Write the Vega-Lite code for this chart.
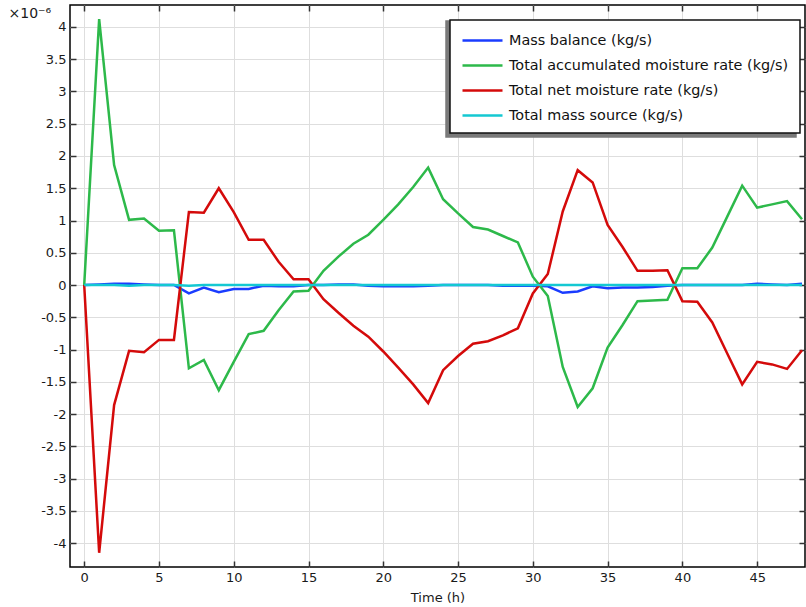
{
  "$schema": "https://vega.github.io/schema/vega-lite/v6.json",
  "autosize": {"type": "none"},
  "padding": {"left": 70, "top": 5, "right": 1, "bottom": 40},
  "width": 735,
  "height": 562,
  "config": {
    "font": "DejaVu Sans",
    "view": {"stroke": "#000000", "strokeWidth": 1.5},
    "axis": {
      "labelFont": "DejaVu Sans",
      "labelFontSize": 13,
      "labelColor": "#1a1a1a",
      "titleFont": "DejaVu Sans",
      "titleFontSize": 13,
      "titleFontWeight": "normal",
      "titleColor": "#1a1a1a",
      "gridColor": "#dedede",
      "gridWidth": 1,
      "domain": false,
      "tickColor": "#333333",
      "tickWidth": 1.5,
      "tickSize": -6
    },
    "legend": {
      "orient": "none",
      "labelFont": "DejaVu Sans",
      "labelFontSize": 14.4,
      "labelLimit": 400,
      "symbolSize": 256,
      "rowPadding": 9,
      "strokeWidth": 1.5
    }
  },
  "data": {
    "values": [
      {"t": 0, "Mass balance (kg/s)": 0, "Total accumulated moisture rate (kg/s)": 0, "Total net moisture rate (kg/s)": 0, "Total mass source (kg/s)": 0},
      {"t": 1, "Mass balance (kg/s)": 0.01, "Total accumulated moisture rate (kg/s)": 4.12, "Total net moisture rate (kg/s)": -4.15, "Total mass source (kg/s)": 0},
      {"t": 2, "Mass balance (kg/s)": 0.02, "Total accumulated moisture rate (kg/s)": 1.86, "Total net moisture rate (kg/s)": -1.86, "Total mass source (kg/s)": 0},
      {"t": 3, "Mass balance (kg/s)": 0.02, "Total accumulated moisture rate (kg/s)": 1.01, "Total net moisture rate (kg/s)": -1.02, "Total mass source (kg/s)": -0.01},
      {"t": 4, "Mass balance (kg/s)": 0.01, "Total accumulated moisture rate (kg/s)": 1.03, "Total net moisture rate (kg/s)": -1.04, "Total mass source (kg/s)": 0},
      {"t": 5, "Mass balance (kg/s)": 0, "Total accumulated moisture rate (kg/s)": 0.84, "Total net moisture rate (kg/s)": -0.85, "Total mass source (kg/s)": 0},
      {"t": 6, "Mass balance (kg/s)": 0, "Total accumulated moisture rate (kg/s)": 0.85, "Total net moisture rate (kg/s)": -0.85, "Total mass source (kg/s)": 0},
      {"t": 7, "Mass balance (kg/s)": -0.13, "Total accumulated moisture rate (kg/s)": -1.29, "Total net moisture rate (kg/s)": 1.13, "Total mass source (kg/s)": -0.01},
      {"t": 8, "Mass balance (kg/s)": -0.04, "Total accumulated moisture rate (kg/s)": -1.16, "Total net moisture rate (kg/s)": 1.12, "Total mass source (kg/s)": 0},
      {"t": 9, "Mass balance (kg/s)": -0.11, "Total accumulated moisture rate (kg/s)": -1.63, "Total net moisture rate (kg/s)": 1.5, "Total mass source (kg/s)": 0},
      {"t": 10, "Mass balance (kg/s)": -0.06, "Total accumulated moisture rate (kg/s)": -1.19, "Total net moisture rate (kg/s)": 1.13, "Total mass source (kg/s)": 0},
      {"t": 11, "Mass balance (kg/s)": -0.06, "Total accumulated moisture rate (kg/s)": -0.76, "Total net moisture rate (kg/s)": 0.7, "Total mass source (kg/s)": 0},
      {"t": 12, "Mass balance (kg/s)": -0.01, "Total accumulated moisture rate (kg/s)": -0.71, "Total net moisture rate (kg/s)": 0.7, "Total mass source (kg/s)": 0},
      {"t": 13, "Mass balance (kg/s)": -0.02, "Total accumulated moisture rate (kg/s)": -0.39, "Total net moisture rate (kg/s)": 0.36, "Total mass source (kg/s)": 0},
      {"t": 14, "Mass balance (kg/s)": -0.02, "Total accumulated moisture rate (kg/s)": -0.1, "Total net moisture rate (kg/s)": 0.09, "Total mass source (kg/s)": 0},
      {"t": 15, "Mass balance (kg/s)": 0, "Total accumulated moisture rate (kg/s)": -0.09, "Total net moisture rate (kg/s)": 0.09, "Total mass source (kg/s)": 0},
      {"t": 16, "Mass balance (kg/s)": 0, "Total accumulated moisture rate (kg/s)": 0.22, "Total net moisture rate (kg/s)": -0.22, "Total mass source (kg/s)": 0},
      {"t": 17, "Mass balance (kg/s)": 0.01, "Total accumulated moisture rate (kg/s)": 0.44, "Total net moisture rate (kg/s)": -0.43, "Total mass source (kg/s)": 0},
      {"t": 18, "Mass balance (kg/s)": 0.01, "Total accumulated moisture rate (kg/s)": 0.64, "Total net moisture rate (kg/s)": -0.63, "Total mass source (kg/s)": 0},
      {"t": 19, "Mass balance (kg/s)": -0.01, "Total accumulated moisture rate (kg/s)": 0.78, "Total net moisture rate (kg/s)": -0.8, "Total mass source (kg/s)": 0},
      {"t": 20, "Mass balance (kg/s)": -0.02, "Total accumulated moisture rate (kg/s)": 1.01, "Total net moisture rate (kg/s)": -1.03, "Total mass source (kg/s)": 0},
      {"t": 21, "Mass balance (kg/s)": -0.02, "Total accumulated moisture rate (kg/s)": 1.25, "Total net moisture rate (kg/s)": -1.28, "Total mass source (kg/s)": 0},
      {"t": 22, "Mass balance (kg/s)": -0.02, "Total accumulated moisture rate (kg/s)": 1.52, "Total net moisture rate (kg/s)": -1.54, "Total mass source (kg/s)": 0},
      {"t": 23, "Mass balance (kg/s)": -0.01, "Total accumulated moisture rate (kg/s)": 1.82, "Total net moisture rate (kg/s)": -1.83, "Total mass source (kg/s)": 0},
      {"t": 24, "Mass balance (kg/s)": 0, "Total accumulated moisture rate (kg/s)": 1.33, "Total net moisture rate (kg/s)": -1.32, "Total mass source (kg/s)": 0},
      {"t": 25, "Mass balance (kg/s)": 0, "Total accumulated moisture rate (kg/s)": 1.11, "Total net moisture rate (kg/s)": -1.1, "Total mass source (kg/s)": 0},
      {"t": 26, "Mass balance (kg/s)": 0, "Total accumulated moisture rate (kg/s)": 0.9, "Total net moisture rate (kg/s)": -0.91, "Total mass source (kg/s)": 0},
      {"t": 27, "Mass balance (kg/s)": 0, "Total accumulated moisture rate (kg/s)": 0.86, "Total net moisture rate (kg/s)": -0.87, "Total mass source (kg/s)": 0},
      {"t": 28, "Mass balance (kg/s)": -0.01, "Total accumulated moisture rate (kg/s)": 0.76, "Total net moisture rate (kg/s)": -0.78, "Total mass source (kg/s)": 0},
      {"t": 29, "Mass balance (kg/s)": -0.01, "Total accumulated moisture rate (kg/s)": 0.66, "Total net moisture rate (kg/s)": -0.67, "Total mass source (kg/s)": 0},
      {"t": 30, "Mass balance (kg/s)": -0.01, "Total accumulated moisture rate (kg/s)": 0.13, "Total net moisture rate (kg/s)": -0.13, "Total mass source (kg/s)": 0},
      {"t": 31, "Mass balance (kg/s)": -0.02, "Total accumulated moisture rate (kg/s)": -0.17, "Total net moisture rate (kg/s)": 0.17, "Total mass source (kg/s)": 0},
      {"t": 32, "Mass balance (kg/s)": -0.12, "Total accumulated moisture rate (kg/s)": -1.27, "Total net moisture rate (kg/s)": 1.14, "Total mass source (kg/s)": 0},
      {"t": 33, "Mass balance (kg/s)": -0.1, "Total accumulated moisture rate (kg/s)": -1.89, "Total net moisture rate (kg/s)": 1.78, "Total mass source (kg/s)": 0},
      {"t": 34, "Mass balance (kg/s)": -0.02, "Total accumulated moisture rate (kg/s)": -1.6, "Total net moisture rate (kg/s)": 1.59, "Total mass source (kg/s)": 0},
      {"t": 35, "Mass balance (kg/s)": -0.05, "Total accumulated moisture rate (kg/s)": -0.97, "Total net moisture rate (kg/s)": 0.93, "Total mass source (kg/s)": 0},
      {"t": 36, "Mass balance (kg/s)": -0.04, "Total accumulated moisture rate (kg/s)": -0.62, "Total net moisture rate (kg/s)": 0.59, "Total mass source (kg/s)": 0},
      {"t": 37, "Mass balance (kg/s)": -0.04, "Total accumulated moisture rate (kg/s)": -0.25, "Total net moisture rate (kg/s)": 0.22, "Total mass source (kg/s)": 0},
      {"t": 38, "Mass balance (kg/s)": -0.03, "Total accumulated moisture rate (kg/s)": -0.24, "Total net moisture rate (kg/s)": 0.22, "Total mass source (kg/s)": 0},
      {"t": 39, "Mass balance (kg/s)": -0.01, "Total accumulated moisture rate (kg/s)": -0.23, "Total net moisture rate (kg/s)": 0.23, "Total mass source (kg/s)": 0},
      {"t": 40, "Mass balance (kg/s)": 0, "Total accumulated moisture rate (kg/s)": 0.26, "Total net moisture rate (kg/s)": -0.25, "Total mass source (kg/s)": 0},
      {"t": 41, "Mass balance (kg/s)": 0, "Total accumulated moisture rate (kg/s)": 0.26, "Total net moisture rate (kg/s)": -0.26, "Total mass source (kg/s)": 0},
      {"t": 42, "Mass balance (kg/s)": 0, "Total accumulated moisture rate (kg/s)": 0.58, "Total net moisture rate (kg/s)": -0.58, "Total mass source (kg/s)": 0},
      {"t": 43, "Mass balance (kg/s)": 0, "Total accumulated moisture rate (kg/s)": 1.06, "Total net moisture rate (kg/s)": -1.06, "Total mass source (kg/s)": 0},
      {"t": 44, "Mass balance (kg/s)": 0, "Total accumulated moisture rate (kg/s)": 1.54, "Total net moisture rate (kg/s)": -1.54, "Total mass source (kg/s)": 0},
      {"t": 45, "Mass balance (kg/s)": 0.02, "Total accumulated moisture rate (kg/s)": 1.2, "Total net moisture rate (kg/s)": -1.19, "Total mass source (kg/s)": 0},
      {"t": 46, "Mass balance (kg/s)": 0.01, "Total accumulated moisture rate (kg/s)": 1.25, "Total net moisture rate (kg/s)": -1.23, "Total mass source (kg/s)": 0},
      {"t": 47, "Mass balance (kg/s)": 0, "Total accumulated moisture rate (kg/s)": 1.3, "Total net moisture rate (kg/s)": -1.3, "Total mass source (kg/s)": 0},
      {"t": 48, "Mass balance (kg/s)": 0.02, "Total accumulated moisture rate (kg/s)": 1.02, "Total net moisture rate (kg/s)": -1.01, "Total mass source (kg/s)": 0}
    ]
  },
  "transform": [
    {"fold": ["Mass balance (kg/s)", "Total accumulated moisture rate (kg/s)", "Total net moisture rate (kg/s)", "Total mass source (kg/s)"], "as": ["series", "value"]}
  ],
  "layer": [
    {
      "mark": {"type": "line", "strokeWidth": 2.5, "clip": true},
      "encoding": {
        "x": {
          "field": "t", "type": "quantitative",
          "scale": {"domain": [-0.95, 48.2], "nice": false, "zero": false},
          "axis": {"orient": "bottom", "values": [0, 5, 10, 15, 20, 25, 30, 35, 40, 45], "title": "Time (h)", "labelPadding": 10, "titlePadding": 7}
        },
        "y": {
          "field": "value", "type": "quantitative",
          "scale": {"domain": [-4.37, 4.34], "nice": false, "zero": false},
          "axis": {
            "orient": "left",
            "values": [-4, -3.5, -3, -2.5, -2, -1.5, -1, -0.5, 0, 0.5, 1, 1.5, 2, 2.5, 3, 3.5, 4],
            "labelExpr": "datum.value < 0 ? '-' + format(-datum.value, '~g') : format(datum.value, '~g')",
            "labelPadding": 10,
            "title": "×10⁻⁶",
            "titleFontSize": 14,
            "titleAngle": 0,
            "titleAlign": "left",
            "titleBaseline": "alphabetic",
            "titleX": -62,
            "titleY": 12
          }
        },
        "color": {
          "field": "series", "type": "nominal",
          "scale": {
            "domain": ["Mass balance (kg/s)", "Total accumulated moisture rate (kg/s)", "Total net moisture rate (kg/s)", "Total mass source (kg/s)"],
            "range": ["#1a3cff", "#2db94a", "#d40a0a", "#14c8d2"]
          },
          "legend": {
            "title": null,
            "legendX": 380,
            "legendY": 15,
            "zindex": 2,
            "fillColor": "#ffffff",
            "strokeColor": "#111111",
            "padding": 11,
            "labelColor": "#111111",
            "symbolType": "M-2.5,0H2.5",
            "symbolStrokeWidth": 2.5,
            "symbolOffset": 12,
            "labelOffset": 17
          }
        },
        "order": {"field": "t", "type": "quantitative"}
      }
    },
    {
      "mark": {"type": "point", "opacity": 0},
      "encoding": {
        "x": {
          "field": "t", "type": "quantitative",
          "axis": {"orient": "top", "values": [0, 5, 10, 15, 20, 25, 30, 35, 40, 45], "labels": false, "grid": false, "title": null}
        },
        "y": {
          "field": "value", "type": "quantitative",
          "axis": {"orient": "right", "values": [-4, -3.5, -3, -2.5, -2, -1.5, -1, -0.5, 0, 0.5, 1, 1.5, 2, 2.5, 3, 3.5, 4], "labels": false, "grid": false, "title": null}
        },
        "shape": {
          "field": "series", "type": "nominal",
          "scale": {"domain": ["Total mass source (kg/s)", "Total net moisture rate (kg/s)", "Total accumulated moisture rate (kg/s)", "Mass balance (kg/s)"]},
          "legend": {
            "title": null,
            "legendX": 376,
            "legendY": 16,
            "zindex": 1,
            "fillColor": "#7a7a7a",
            "strokeColor": "#7a7a7a",
            "padding": 13,
            "labelExpr": "''",
            "labelColor": "transparent",
            "symbolOpacity": 0,
            "symbolStrokeWidth": 0,
            "labelOffset": 308
          }
        }
      }
    }
  ],
  "resolve": {"axis": {"x": "independent", "y": "independent"}}
}
